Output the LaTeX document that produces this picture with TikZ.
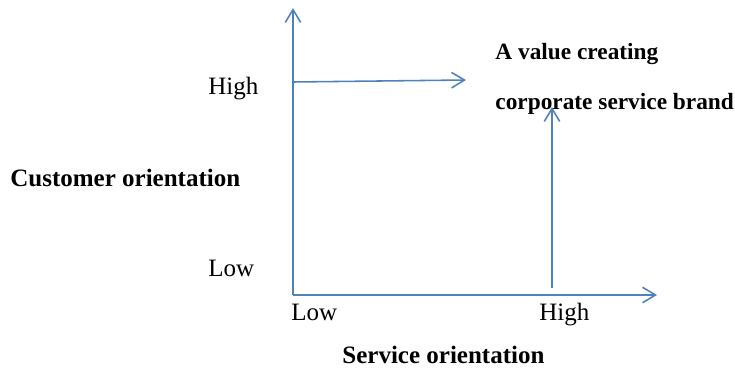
\documentclass[tikz,border=0pt]{standalone}
\usepackage{fontspec}
\setmainfont{Liberation Serif}
\usetikzlibrary{arrows.meta}

\begin{document}
\begin{tikzpicture}[x=0.48pt, y=-0.48pt,
    axis/.style={draw=axisblue, line width=0.75pt, -{Straight Barb[length=6.2pt, width=7.4pt, line width=0.75pt]}},
    lbl/.style={inner sep=0pt, anchor=base west, font=\fontsize{12}{14}\selectfont},
    title/.style={lbl, font=\fontsize{12}{14}\selectfont\bfseries},
    brandtext/.style={lbl, font=\fontsize{11.2}{13}\selectfont\bfseries}]
  \definecolor{axisblue}{RGB}{79,129,189}
  \useasboundingbox (0, 0) rectangle (735, 372);

  % axis points
  \coordinate (origin) at (293, 295);
  \coordinate (ytop) at (293, 8);
  \coordinate (xend) at (657, 295);
  \coordinate (highstart) at (293, 82);
  \coordinate (highend) at (466, 80);
  \coordinate (brandfoot) at (552, 288);
  \coordinate (brandtip) at (552, 107);

  % draw axes and arrows
  \draw [axis] (origin) -- (ytop);
  \draw [axis] (origin) -- (xend);
  \draw [axis] (highstart) -- (highend);
  \draw [axis] (brandfoot) -- (brandtip);

  % customer orientation labels
  \node [lbl] (yhigh) at (208, 95) {High};
  \node [lbl] (ylow) at (208, 276) {Low};
  \node [title] (ytitle) at (10, 186) {Customer orientation};

  % service orientation labels
  \node [lbl] (xlow) at (291, 320) {Low};
  \node [lbl] (xhigh) at (539, 320) {High};
  \node [title] (xtitle) at (342, 363) {Service orientation};

  % brand text
  \node [brandtext] (brand1) at (495, 60) {A value creating};
  \node [brandtext] (brand2) at (495, 110) {corporate service brand};
\end{tikzpicture}
\end{document}
